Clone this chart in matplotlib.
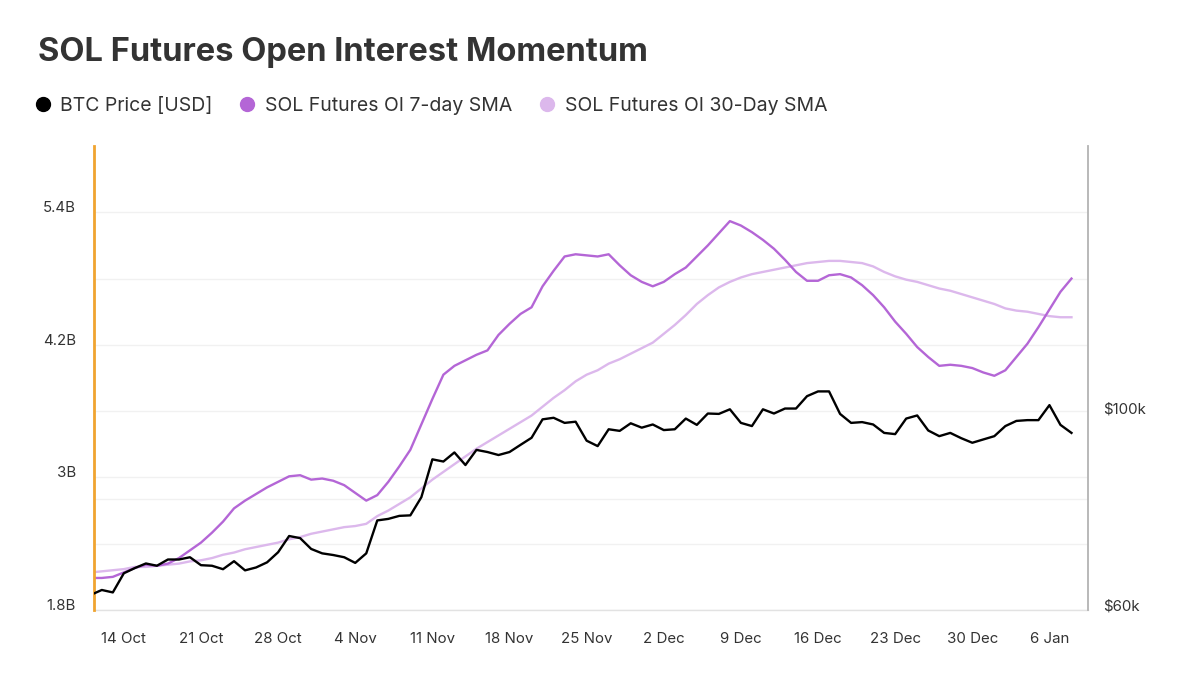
import matplotlib
matplotlib.use('Agg')
import matplotlib.pyplot as plt
from matplotlib.lines import Line2D
from matplotlib.ticker import NullFormatter
from matplotlib.transforms import ScaledTranslation
import numpy as np
import pandas as pd

# ---------------- data ----------------
start_date = '2024-10-11'

# BTC price, thousands of USD (daily)
btc_price = [
    62.4,
    63.2, 62.8, 66.0, 66.9, 67.7, 67.3, 68.4, 68.4, 68.8, 67.4,
    67.3, 66.7, 68.1, 66.5, 67.0, 67.9, 69.7, 72.7, 72.3, 70.3,
    69.5, 69.2, 68.8, 67.8, 69.5, 75.7, 76.0, 76.6, 76.7, 80.4,
    88.7, 88.2, 90.3, 87.4, 90.9, 90.4, 89.7, 90.4, 92.1, 93.8,
    98.4, 98.8, 97.5, 97.8, 93.1, 91.8, 95.9, 95.5, 97.4, 96.3,
    97.1, 95.7, 95.9, 98.6, 97.0, 99.9, 99.8, 101.0, 97.5, 96.7,
    101.0, 99.9, 101.2, 101.2, 104.5, 105.8, 105.8, 99.8, 97.5, 97.7,
    97.1, 95.0, 94.7, 98.6, 99.4, 95.6, 94.2, 95.0, 93.7, 92.6,
    93.4, 94.2, 96.7, 98.0, 98.2, 98.2, 102.1, 97.0, 95.0,
]

# SOL futures open interest, 7-day SMA, billions of USD
oi_7d = [
    2.09,
    2.09, 2.10, 2.14, 2.18, 2.21, 2.20, 2.22, 2.27, 2.34, 2.41,
    2.50, 2.60, 2.72, 2.79, 2.85, 2.91, 2.96, 3.01, 3.02, 2.98,
    2.99, 2.97, 2.93, 2.86, 2.79, 2.84, 2.96, 3.10, 3.25, 3.48,
    3.71, 3.93, 4.01, 4.06, 4.11, 4.15, 4.29, 4.39, 4.48, 4.54,
    4.73, 4.87, 5.00, 5.02, 5.01, 5.00, 5.02, 4.92, 4.83, 4.77,
    4.73, 4.77, 4.84, 4.90, 5.00, 5.10, 5.21, 5.32, 5.28, 5.22,
    5.15, 5.07, 4.97, 4.86, 4.78, 4.78, 4.83, 4.84, 4.81, 4.74,
    4.65, 4.54, 4.41, 4.30, 4.18, 4.09, 4.01, 4.02, 4.01, 3.99,
    3.95, 3.92, 3.97, 4.09, 4.21, 4.36, 4.52, 4.68, 4.80,
]

# SOL futures open interest, 30-day SMA, billions of USD
oi_30d = [
    2.14,
    2.15, 2.16, 2.17, 2.19, 2.19, 2.20, 2.21, 2.22, 2.24, 2.25,
    2.27, 2.30, 2.32, 2.35, 2.37, 2.39, 2.41, 2.44, 2.46, 2.49,
    2.51, 2.53, 2.55, 2.56, 2.58, 2.65, 2.70, 2.76, 2.82, 2.90,
    2.98, 3.05, 3.12, 3.19, 3.26, 3.32, 3.38, 3.44, 3.50, 3.56,
    3.64, 3.72, 3.79, 3.87, 3.93, 3.97, 4.03, 4.07, 4.12, 4.17,
    4.22, 4.30, 4.38, 4.47, 4.57, 4.65, 4.72, 4.77, 4.81, 4.84,
    4.86, 4.88, 4.90, 4.92, 4.94, 4.95, 4.96, 4.96, 4.95, 4.94,
    4.91, 4.86, 4.82, 4.79, 4.77, 4.74, 4.71, 4.69, 4.66, 4.63,
    4.60, 4.57, 4.53, 4.51, 4.50, 4.48, 4.46, 4.45, 4.45,
]

x_tick_dates = ['2024-10-14', '2024-10-21', '2024-10-28', '2024-11-04',
                '2024-11-11', '2024-11-18', '2024-11-25', '2024-12-02',
                '2024-12-09', '2024-12-16', '2024-12-23', '2024-12-30',
                '2025-01-06']
x_tick_labels = ['14 Oct', '21 Oct', '28 Oct', '4 Nov', '11 Nov', '18 Nov',
                 '25 Nov', '2 Dec', '9 Dec', '16 Dec', '23 Dec', '30 Dec',
                 '6 Jan']

left_ticks = [1.8, 3.0, 4.2, 5.4]
left_tick_labels = ['1.8B', '3B', '4.2B', '5.4B']
left_minor_ticks = [2.4, 3.6, 4.8]
right_ticks = [60000, 100000]
right_tick_labels = ['$60k', '$100k']
right_grid_values = [80000]

series_labels = ['BTC Price [USD]', 'SOL Futures OI 7-day SMA',
                 'SOL Futures OI 30-Day SMA']
colors = ['#000000', '#b466d6', '#dcb8ec']

# ---------------- plot ----------------
plt.rcParams['font.family'] = ['Inter', 'DejaVu Sans']
text_color = '#333333'
grid_color = '#f1f1f1'

dates = pd.date_range(start_date, periods=len(btc_price), freq='D')

W, H = 1200, 689
fig = plt.figure(figsize=(W / 100, H / 100), dpi=100)
fig.patch.set_facecolor('white')
ax = fig.add_axes([94 / W, 1 - 610 / H, (1088 - 94) / W, (610 - 146) / H])
ax2 = ax.twinx()

ax.plot(dates, oi_30d, color=colors[2], lw=1.7, zorder=3)
ax.plot(dates, oi_7d, color=colors[1], lw=1.7, zorder=4)
ax2.plot(dates, np.array(btc_price) * 1000, color=colors[0], lw=1.7, zorder=5)

# x axis
x0 = pd.Timestamp(start_date) + pd.Timedelta(hours=7)
x1 = pd.Timestamp('2025-01-09 12:00')
ax.set_xlim(x0, x1)
ax.set_xticks(pd.to_datetime(x_tick_dates))
ax.set_xticklabels(x_tick_labels)

# left axis
ax.set_ylim(1.8, 6.0)
ax.set_yticks(left_ticks)
ax.set_yticklabels(left_tick_labels)
ax.set_yticks(left_minor_ticks, minor=True)
ax.yaxis.set_minor_formatter(NullFormatter())
ax.grid(axis='y', which='both', color=grid_color, lw=1, zorder=0)
ax.set_axisbelow(True)

# right axis (log)
ax2.set_yscale('log')
ax2.set_ylim(60000, 200000)
ax2.set_yticks(right_ticks)
ax2.set_yticklabels(right_tick_labels)
ax2.set_yticks([], minor=True)
ax2.grid(False)
# right-axis gridline drawn in the lower axes so it stays under the lines
for v in right_grid_values:
    ax.add_line(Line2D([0, 1], [v, v], transform=ax2.get_yaxis_transform(),
                       color=grid_color, lw=1, zorder=0.5))

ax.tick_params(axis='both', which='both', length=0, colors=text_color, labelsize=10.8)
ax.tick_params(axis='y', pad=13)
ax.tick_params(axis='x', pad=16)
ax2.tick_params(axis='y', which='both', length=0, colors=text_color, labelsize=10.8, pad=11)

shift = ScaledTranslation(0, 0.055, fig.dpi_scale_trans)
for lab in ax.get_yticklabels() + ax2.get_yticklabels():
    lab.set_transform(lab.get_transform() + shift)

# spines
for s in ['top', 'right', 'left']:
    ax.spines[s].set_visible(False)
ax.spines['bottom'].set_color('#e2e2e2')
ax.spines['bottom'].set_linewidth(1.0)
for s in ['top', 'bottom']:
    ax2.spines[s].set_visible(False)
ax2.spines['left'].set_visible(True)
ax2.spines['left'].set_color('#f0a430')
ax2.spines['left'].set_linewidth(2.0)
ax2.spines['right'].set_color('#b3b3b3')
ax2.spines['right'].set_linewidth(1.3)

# title
fig.text(38 / W, 1 - 53 / H, 'SOL Futures Open Interest Momentum',
         fontsize=23.5, fontweight='bold', color=text_color, va='center', ha='left')

# legend
handles = [Line2D([], [], marker='o', linestyle='none', markersize=10,
                  markerfacecolor=c, markeredgecolor=c) for c in colors]
leg = fig.legend(handles, series_labels, loc='center left',
                 bbox_to_anchor=(25 / W, 1 - 106 / H), ncol=3, frameon=False,
                 fontsize=14, handletextpad=0.4, columnspacing=1.3,
                 handlelength=1.0, borderaxespad=0)
for t in leg.get_texts():
    t.set_color(text_color)

fig.savefig('out.png', dpi=100, facecolor='white')
